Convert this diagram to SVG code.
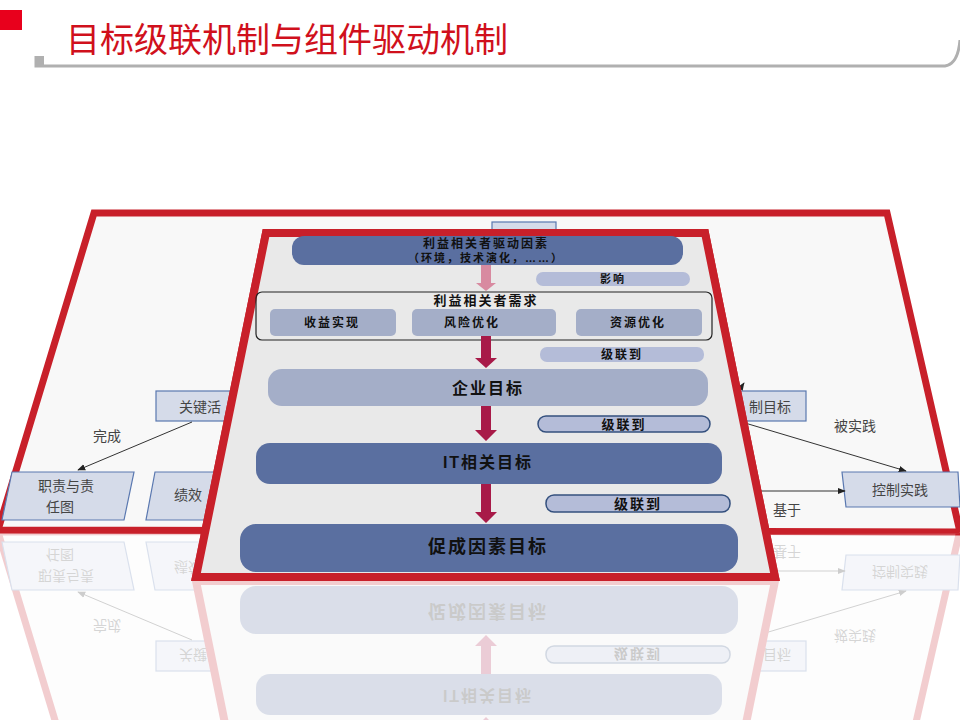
<svg xmlns="http://www.w3.org/2000/svg" xmlns:xlink="http://www.w3.org/1999/xlink" width="960" height="720" viewBox="0 0 960 720">
<style>
text{font-family:"Liberation Sans","Noto Sans CJK SC",sans-serif;}
.bt{font-size:14px;fill:#444;text-anchor:middle;}
.bb{fill:#d5dbe9;stroke:#5a78b0;stroke-width:1.2;}
.ft{font-weight:bold;fill:#111;text-anchor:middle;letter-spacing:2px;}
.dk{fill:#5a6fa0;}
.lt{fill:#a4aec8;}
.pl{fill:#b4bcd8;}
.ln{stroke:#333;stroke-width:1;fill:none;}
</style>
<defs>
<marker id="ah" viewBox="0 0 10 10" refX="9" refY="5" markerWidth="8" markerHeight="8" orient="auto"><path d="M0,1 L10,5 L0,9 z" fill="#222"/></marker>
<clipPath id="cb"><rect x="0" y="530" width="960" height="190"/></clipPath>
<clipPath id="cf"><rect x="0" y="578" width="960" height="142"/></clipPath>
</defs>
<rect width="960" height="720" fill="#fff"/>
<g id="title">
<rect x="0" y="10" width="22" height="20" fill="#e8001c"/>
<path d="M36,56 L36,66 L945,66 Q958,64 960,40" fill="none" stroke="#b0b0b0" stroke-width="3"/>
<rect x="36" y="56" width="8" height="10" fill="#b0b0b0"/>
<text x="66" y="52" font-size="34" fill="#d0101c" style="font-family:'Noto Sans CJK SC',sans-serif">目标级联机制与组件驱动机制</text>
</g>
<g id="back">
<polygon points="94,213 887,213 960,532 -2,530" fill="#f8f8f8" stroke="#c8202a" stroke-width="7"/>
<rect x="492" y="222" width="64" height="12" class="bb"/>
<g id="n-guanjian"><rect x="156" y="391" width="80" height="30" class="bb"/><text x="200" y="412" class="bt">关键活</text></g>
<g id="n-zhize"><polygon points="12,472 134,472 124,520 2,520" class="bb"/><text x="66" y="491" class="bt">职责与责</text><text x="60" y="512" class="bt">任图</text></g>
<g id="n-jixiao"><polygon points="155,472 235,472 230,520 146,520" class="bb"/><text x="188" y="500" class="bt">绩效</text></g>
<g id="n-kzmb"><rect x="736" y="391" width="70" height="30" class="bb"/><text x="770" y="412" class="bt">制目标</text></g>
<g id="n-kzsj"><polygon points="842,472 958,472 960,507 846,507" class="bb"/><text x="900" y="495" class="bt">控制实践</text></g>
<g id="back-conn">
<line x1="192" y1="422" x2="78" y2="470" class="ln" marker-end="url(#ah)"/>
<text x="107" y="441" class="bt">完成</text>
<line x1="745" y1="423" x2="906" y2="471" class="ln" marker-end="url(#ah)"/>
<text x="855" y="431" class="bt">被实践</text>
<line x1="745" y1="491" x2="845" y2="491" class="ln" marker-end="url(#ah)"/>
<text x="787" y="515" class="bt">基于</text>
<line x1="738" y1="392" x2="744" y2="383" class="ln" marker-end="url(#ah)"/>
</g>
</g>
<g id="front">
<polygon points="266,233 705,233 775,577 196,577" fill="#e9e9e9" stroke="#c8202a" stroke-width="8"/>
<g id="n-driver"><rect x="292" y="236" width="391" height="29" rx="12" class="dk"/><text x="486" y="248" class="ft" font-size="12">利益相关者驱动因素</text><text x="486" y="262" class="ft" font-size="11">（环境，技术演化，……）</text></g>
<g id="n-needs"><rect x="256" y="292" width="456" height="48" rx="6" fill="none" stroke="#222" stroke-width="1.2"/>
<text x="486" y="305" class="ft" font-size="13">利益相关者需求</text>
<rect x="270" y="309" width="126" height="27" rx="5" class="lt"/><text x="332" y="327" class="ft" font-size="12">收益实现</text>
<rect x="412" y="309" width="144" height="27" rx="5" class="lt"/><text x="472" y="327" class="ft" font-size="12">风险优化</text>
<rect x="576" y="309" width="126" height="27" rx="5" class="lt"/><text x="638" y="327" class="ft" font-size="12">资源优化</text></g>
<g id="n-ent"><rect x="268" y="369" width="440" height="37" rx="14" class="lt"/><text x="488" y="394" class="ft" font-size="16">企业目标</text></g>
<g id="n-it"><rect x="256" y="443" width="466" height="41" rx="14" class="dk"/><text x="488" y="468" class="ft" font-size="16">IT相关目标</text></g>
<g id="n-enabler"><rect x="240" y="524" width="498" height="48" rx="16" class="dk"/><text x="488" y="553" class="ft" font-size="18">促成因素目标</text></g>
<g id="front-conn">
<path d="M481,265 h10 v18 h5 l-10,8 l-10,-8 h5 z" fill="#d88aa0"/>
<path d="M481,336 h10 v22 h6 l-11,10 l-11,-10 h6 z" fill="#a81a48"/>
<path d="M481,406 h10 v24 h6 l-11,11 l-11,-11 h6 z" fill="#a81a48"/>
<path d="M481,484 h10 v28 h6 l-11,11 l-11,-11 h6 z" fill="#a81a48"/>
<rect x="536" y="272" width="154" height="14" rx="7" class="pl"/><text x="613" y="283" class="ft" font-size="11">影响</text>
<rect x="540" y="347" width="164" height="15" rx="7" class="pl"/><text x="622" y="359" class="ft" font-size="12">级联到</text>
<rect x="538" y="416" width="172" height="16" rx="8" class="pl" stroke="#34507e" stroke-width="1.5"/><text x="624" y="429" class="ft" font-size="13">级联到</text>
<rect x="546" y="495" width="184" height="17" rx="8" class="pl" stroke="#34507e" stroke-width="1.5"/><text x="638" y="509" class="ft" font-size="14">级联到</text>
</g>
</g>
<g id="reflection" opacity="0.22">
<g clip-path="url(#cb)"><use xlink:href="#back" transform="translate(0,1062) scale(1,-1)"/></g>
<g clip-path="url(#cf)"><use xlink:href="#front" transform="translate(0,1158) scale(1,-1)"/></g>
</g>
<use xlink:href="#front"/>
</svg>
